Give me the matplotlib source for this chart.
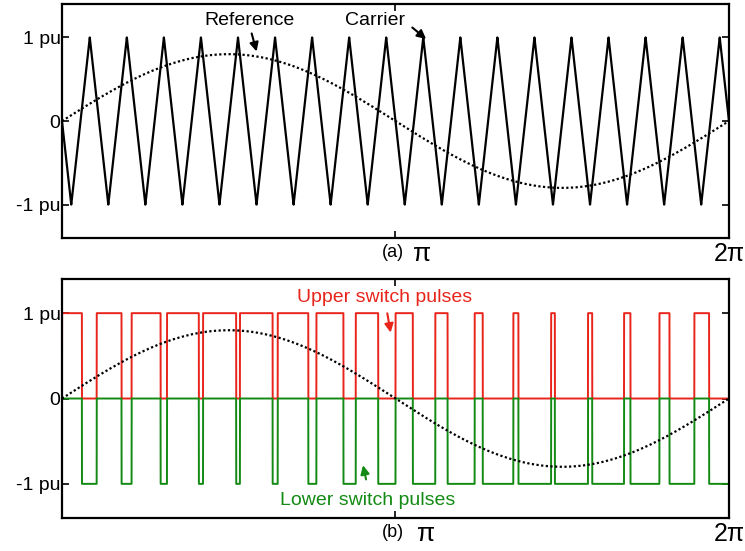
import numpy as np
import matplotlib.pyplot as plt

plt.rcParams['font.family'] = ['Liberation Sans', 'DejaVu Sans']

# waveform parameters
m_a = 0.8          # reference amplitude (pu)
m_f = 18           # carrier cycles per fundamental period
y_ticks = [-1, 0, 1]
y_labels = ['-1 pu', '0', '1 pu']
colors = {'carrier': 'black', 'ref': 'black', 'upper': '#e8241b', 'lower': '#138a13'}

t = np.linspace(0, 2 * np.pi, 40001)
ref = m_a * np.sin(t)
carrier = (2 / np.pi) * np.arcsin(np.sin(-m_f * t))
upper = np.where(ref > carrier, 1.0, 0.0)
lower = np.where(ref < carrier, -1.0, 0.0)

fig = plt.figure(figsize=(7.45, 5.51), dpi=100)
ax1 = fig.add_axes([0.0832, 0.568, 0.8953, 0.4247])
ax2 = fig.add_axes([0.0832, 0.0599, 0.8953, 0.4337])


def style(ax, tag, pi_x):
    ax.set_xlim(0, 2 * np.pi)
    ax.set_ylim(-1.4, 1.4)
    ax.set_yticks(y_ticks)
    ax.set_yticklabels(y_labels, fontsize=14)
    ax.set_xticks([np.pi])
    ax.set_xticklabels([''])
    ax.tick_params(direction='in', length=5, width=1.2, top=True, right=True, pad=1)
    for s in ax.spines.values():
        s.set_linewidth(1.6)
    ax.text(np.pi - 0.02, -1.47, tag, ha='center', va='top', fontsize=13)
    ax.text(pi_x, -1.45, '\u03c0', ha='center', va='top', fontsize=19)
    ax.text(2 * np.pi, -1.45, '2\u03c0', ha='center', va='top', fontsize=18)


ax1.plot(t, carrier, color=colors['carrier'], lw=1.6)
ax1.plot(t, ref, color=colors['ref'], lw=1.6, ls=(0, (1, 1.1)))
style(ax1, '(a)', np.pi + 0.25)
ax1.text(1.77, 1.2, 'Reference', ha='center', va='center', fontsize=14)
ax1.annotate('', xy=(1.84, 0.8), xytext=(1.78, 1.08),
             arrowprops=dict(arrowstyle='-|>', color='black', lw=1.5, mutation_scale=13))
ax1.text(2.95, 1.2, 'Carrier', ha='center', va='center', fontsize=14)
ax1.annotate('', xy=(3.45, 0.96), xytext=(3.28, 1.14),
             arrowprops=dict(arrowstyle='-|>', color='black', lw=1.5, mutation_scale=13))

ax2.plot(t, upper, color=colors['upper'], lw=1.4)
ax2.plot(t, lower, color=colors['lower'], lw=1.4)
ax2.plot(t, ref, color='black', lw=1.6, ls=(0, (1, 1.1)))
style(ax2, '(b)', np.pi + 0.29)
ax2.text(3.04, 1.18, 'Upper switch pulses', ha='center', va='center',
         fontsize=14, color=colors['upper'])
ax2.annotate('', xy=(3.1, 0.74), xytext=(3.06, 1.03),
             arrowprops=dict(arrowstyle='-|>', color=colors['upper'], lw=1.5, mutation_scale=13))
ax2.text(2.88, -1.19, 'Lower switch pulses', ha='center', va='center',
         fontsize=14, color=colors['lower'])
ax2.annotate('', xy=(2.83, -0.75), xytext=(2.87, -0.98),
             arrowprops=dict(arrowstyle='-|>', color=colors['lower'], lw=1.5, mutation_scale=13))

fig.savefig('out.png', dpi=100)
